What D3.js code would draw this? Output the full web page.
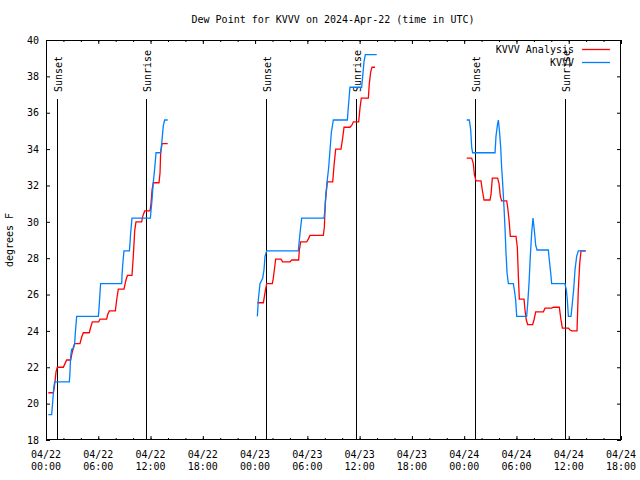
<!DOCTYPE html>
<html><head><meta charset="utf-8">
<script src="https://cdn.jsdelivr.net/npm/d3@7"></script>
<style>
html,body{margin:0;padding:0;background:#fff;}
svg{display:block;}
text{font-family:"DejaVu Sans Mono",monospace;font-size:10px;fill:#000;}
</style></head>
<body>
<svg id="chart" width="640" height="480"></svg>
<script>
// ---- data (hours after 2024-04-22 00:00 UTC, dew point in degrees F) ----
const startTime = "2024-04-22T00:00:00Z";
const endHour = 66;
const titleText = "Dew Point for KVVV on 2024-Apr-22 (time in UTC)";
const yLabelText = "degrees F";
const seriesNames = ["KVVV Analysis", "KVVV"];
const yTicks = [18,20,22,24,26,28,30,32,34,36,38,40];
const sunsetHours = [1.28, 25.26, 49.24];
const sunriseHours = [11.52, 35.54, 59.56];

const analysisSeg1 = [[0.27,20.6],[0.84,20.6],[0.96,20.9],[1.15,21.75],[1.30,22.0],[1.99,22.0],[2.18,22.2],[2.37,22.4],[2.83,22.4],[2.95,22.7],[3.14,23.1],[3.29,23.3],[3.90,23.3],[4.09,23.65],[4.28,23.9],[4.97,23.9],[5.13,24.2],[5.32,24.5],[6.05,24.5],[6.20,24.65],[6.96,24.65],[7.08,24.9],[7.27,25.1],[7.96,25.1],[8.11,25.7],[8.30,26.3],[8.95,26.3],[9.18,26.8],[9.34,27.05],[9.87,27.05],[10.02,28.1],[10.18,29.5],[10.33,30.0],[10.98,30.0],[11.10,30.3],[11.33,30.6],[11.94,30.6],[12.05,31.0],[12.17,31.75],[12.32,32.15],[12.97,32.15],[13.09,32.7],[13.16,33.8],[13.32,34.3],[13.97,34.3]];
const analysisSeg2 = [[24.26,25.55],[24.95,25.55],[25.14,26.1],[25.33,26.6],[25.98,26.6],[26.09,26.9],[26.25,27.5],[26.36,27.95],[26.97,27.95],[27.17,27.8],[28.01,27.8],[28.20,27.9],[29.0,27.9],[29.08,28.45],[29.23,28.9],[29.92,28.9],[30.11,29.05],[30.30,29.25],[31.83,29.25],[31.95,29.7],[32.06,31.1],[32.29,32.2],[32.91,32.2],[33.06,33.1],[33.25,34.0],[33.86,34.0],[34.05,34.6],[34.21,35.2],[34.89,35.2],[35.09,35.3],[35.28,35.5],[35.89,35.5],[36.04,36.25],[36.19,36.8],[37.0,36.8],[37.11,37.6],[37.27,38.25],[37.42,38.5],[37.76,38.5]];
const analysisSeg3 = [[48.29,33.5],[48.86,33.5],[49.05,33.2],[49.17,32.6],[49.36,32.25],[49.93,32.25],[50.08,31.75],[50.28,31.2],[50.96,31.2],[51.08,31.5],[51.23,32.4],[51.84,32.4],[52.0,32.1],[52.15,31.4],[52.30,31.15],[52.88,31.15],[52.99,30.8],[53.15,30.1],[53.30,29.2],[53.95,29.2],[54.10,28.6],[54.22,27.0],[54.33,25.75],[54.87,25.75],[54.98,25.15],[55.13,24.6],[55.29,24.35],[55.86,24.35],[56.01,24.6],[56.21,25.05],[57.09,25.05],[57.28,25.25],[58.04,25.25],[58.24,25.3],[58.92,25.3],[59.08,24.7],[59.27,24.15],[59.96,24.15],[60.15,24.05],[60.34,24.0],[60.95,24.0],[61.10,26.25],[61.26,27.7],[61.41,28.4],[61.95,28.4]];

const obsSeg1 = [[0.27,19.4],[0.65,19.4],[0.70,19.7],[0.80,20.3],[0.88,20.8],[0.99,21.2],[2.68,21.2],[2.75,21.7],[2.83,22.6],[2.95,23.0],[3.14,23.0],[3.29,23.3],[3.37,23.9],[3.52,24.8],[6.01,24.8],[6.08,25.2],[6.20,26.1],[6.27,26.6],[8.69,26.6],[8.72,27.0],[8.80,27.6],[8.95,28.4],[9.57,28.4],[9.64,28.8],[9.72,29.4],[9.87,30.2],[11.98,30.2],[12.05,30.6],[12.17,31.2],[12.32,32.2],[12.47,32.9],[12.63,33.8],[13.16,33.8],[13.28,34.3],[13.47,35.3],[13.62,35.6],[13.97,35.6]];
const obsSeg2 = [[24.26,24.8],[24.37,25.7],[24.56,26.6],[24.87,26.9],[25.02,27.35],[25.14,28.1],[25.33,28.4],[28.96,28.4],[29.08,29.0],[29.23,29.7],[29.35,30.2],[31.91,30.2],[32.02,30.65],[32.14,31.6],[32.29,32.3],[32.45,33.0],[32.60,33.95],[32.75,34.9],[32.98,35.6],[34.59,35.6],[34.70,36.3],[34.89,37.4],[36.23,37.4],[36.35,38.0],[36.50,38.8],[36.65,39.2],[37.96,39.2]];
const obsSeg3 = [[48.29,35.6],[48.59,35.6],[48.75,35.05],[48.86,34.1],[48.97,33.8],[51.54,33.8],[51.65,34.7],[51.81,35.3],[51.92,35.6],[52.04,35.05],[52.19,34.1],[52.30,33.0],[52.42,32.1],[52.57,30.8],[52.69,29.6],[52.80,28.3],[52.92,27.2],[53.07,26.6],[53.64,26.6],[53.76,26.25],[53.91,25.7],[54.03,24.8],[55.17,24.8],[55.29,25.5],[55.44,26.6],[55.59,28.1],[55.75,29.4],[55.90,30.2],[56.05,29.55],[56.21,28.7],[56.36,28.45],[57.66,28.45],[57.77,27.9],[57.93,27.2],[58.04,26.6],[59.57,26.6],[59.73,26.25],[59.84,25.7],[59.96,24.8],[60.26,24.8],[60.41,25.5],[60.57,26.3],[60.72,27.35],[60.91,28.1],[61.10,28.4],[61.95,28.4]];

const analysisColor = "#ff0000";
const obsColor = "#0080ff";

// ---- drawing ----
(function draw() {
const svg = d3.select("#chart");
const pL = 46, pR = 621, pT = 40, pB = 440;
const t0 = new Date(startTime);
const hourToDate = h => new Date(t0.getTime() + h * 3600000);

const x = d3.scaleUtc().domain([t0, hourToDate(endHour)]).range([pL, pR]);
const y = d3.scaleLinear().domain([18, 40]).range([pB, pT]);

svg.append("text").attr("x", 333).attr("y", 23).attr("text-anchor", "middle").text(titleText);
svg.append("text").attr("transform", "translate(13,240) rotate(-90)").attr("text-anchor", "middle").text(yLabelText);

const majorX = d3.utcHour.every(6).range(t0, hourToDate(endHour + 0.01));
const minorX = d3.utcHour.every(2).range(t0, hourToDate(endHour + 0.01));
const fmtDate = d3.utcFormat("%m/%d"), fmtTime = d3.utcFormat("%H:%M");

function axisG(axis, tx, ty) {
  const g = svg.append("g").attr("transform", `translate(${tx},${ty})`).call(axis);
  g.select(".domain").remove();
  g.attr("font-size", null).attr("font-family", null);
  return g;
}
axisG(d3.axisBottom(x).tickValues(majorX).tickSize(-4).tickFormat(""), 0, pB);
axisG(d3.axisBottom(x).tickValues(minorX).tickSize(-2).tickFormat(""), 0, pB);
axisG(d3.axisTop(x).tickValues(majorX).tickSize(-4).tickFormat(""), 0, pT);
axisG(d3.axisTop(x).tickValues(minorX).tickSize(-2).tickFormat(""), 0, pT);
axisG(d3.axisLeft(y).tickValues(yTicks).tickSize(-4).tickPadding(7).tickFormat(d3.format("d")), pL, 0);
axisG(d3.axisRight(y).tickValues(yTicks).tickSize(-4).tickFormat(""), pR, 0);
svg.selectAll(".tick line").attr("stroke", "#000");

const xl = svg.append("g");
majorX.forEach(d => {
  const t = xl.append("text").attr("text-anchor", "middle");
  t.append("tspan").attr("x", x(d)).attr("y", 457.5).text(fmtDate(d));
  t.append("tspan").attr("x", x(d)).attr("y", 469.5).text(fmtTime(d));
});

svg.append("rect").attr("x", pL + 0.5).attr("y", pT + 0.5)
  .attr("width", pR - pL - 1).attr("height", pB - pT - 1)
  .attr("fill", "none").attr("stroke", "#000").attr("stroke-width", 1);

function marker(h, label) {
  const px = Math.round(x(hourToDate(h))) + 0.5;
  svg.append("line").attr("x1", px).attr("x2", px).attr("y1", 99).attr("y2", pB)
    .attr("stroke", "#000").attr("stroke-width", 1);
  svg.append("text").attr("transform", `translate(${px + 4},92) rotate(-90)`)
    .attr("text-anchor", "start").text(label);
}
sunsetHours.forEach(h => marker(h, "Sunset"));
sunriseHours.forEach(h => marker(h, "Sunrise"));

const line = d3.line().x(d => x(hourToDate(d[0]))).y(d => y(d[1]));
[analysisSeg1, analysisSeg2, analysisSeg3].forEach(seg =>
  svg.append("path").datum(seg).attr("d", line).attr("fill", "none")
    .attr("stroke", analysisColor).attr("stroke-width", 1.3));
[obsSeg1, obsSeg2, obsSeg3].forEach(seg =>
  svg.append("path").datum(seg).attr("d", line).attr("fill", "none")
    .attr("stroke", obsColor).attr("stroke-width", 1.3));

[[seriesNames[0], analysisColor, 49], [seriesNames[1], obsColor, 62]].forEach(([name, col, ly]) => {
  svg.append("text").attr("x", 574).attr("y", ly + 3.5).attr("text-anchor", "end").text(name);
  svg.append("line").attr("x1", 582).attr("x2", 610).attr("y1", ly + 0.5).attr("y2", ly + 0.5)
    .attr("stroke", col).attr("stroke-width", 1.3);
});
})();
</script>
</body></html>
